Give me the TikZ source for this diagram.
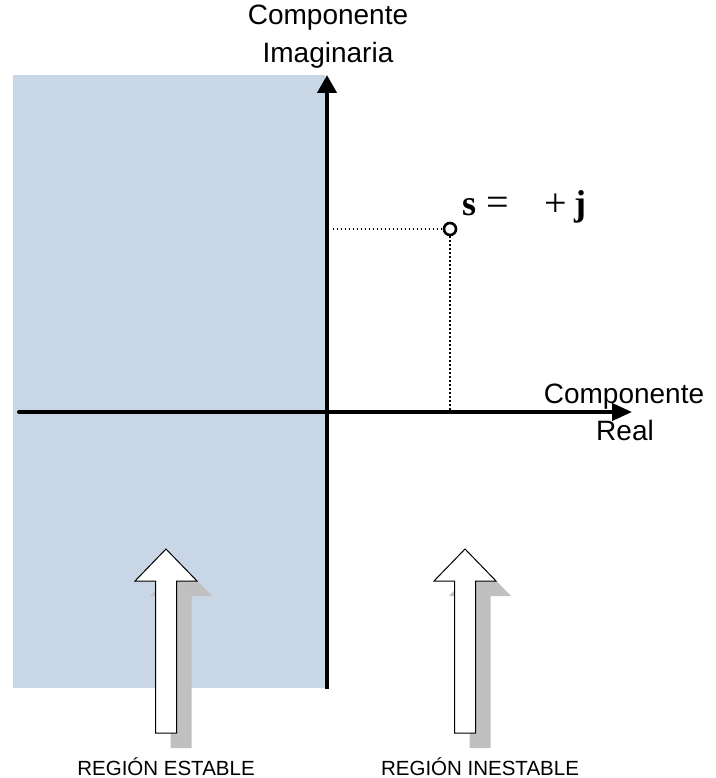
\documentclass[tikz,border=0pt]{standalone}
\usepackage{fontspec}
\setmainfont{Liberation Sans}
\newfontfamily\serifrm{Liberation Serif}
\usetikzlibrary{arrows.meta}
\definecolor{stablefill}{RGB}{201,214,229}
\definecolor{shadowgray}{RGB}{192,192,192}
\tikzset{
  axisline/.style={line width=4pt},
  axislabel/.style={font=\fontsize{28}{34}\selectfont, inner sep=0pt, anchor=base},
  regionlabel/.style={font=\fontsize{20.5}{24}\selectfont, inner sep=0pt, anchor=base},
  guide/.style={line width=1.3pt, dash pattern=on 1.3pt off 2.7pt},
  polepoint/.style={circle, draw, line width=2.6pt, fill=white, minimum size=12pt, inner sep=0pt},
  formula/.style={inner sep=0pt, anchor=base west},
  bigarrow/.pic={
    \fill[shadowgray] (15,15) -- (46,47) -- (25.5,47) -- (25.5,199) -- (4.5,199)
                       -- (4.5,47) -- (-16,47) -- cycle;
    \draw[fill=white, line width=1pt] (0,0) -- (31,32) -- (10.5,32) -- (10.5,184)
                       -- (-10.5,184) -- (-10.5,32) -- (-31,32) -- cycle;
  }
}
\begin{document}
\begin{tikzpicture}[x=1pt, y=-1pt]
  \useasboundingbox (0,0) rectangle (715,778);

  % stable half plane
  \fill[stablefill] (13,75) rectangle (325,688);

  % axes
  \coordinate (imbottom) at (327,689);
  \coordinate (imtop) at (327,75);
  \coordinate (releft) at (19,412);
  \coordinate (reright) at (632,412);
  \draw[axisline, -{Triangle[length=18pt, width=19pt]}] (imbottom) -- (imtop);
  \draw[axisline, line cap=round, -{Triangle[length=20pt, width=17pt]}] (releft) -- (reright);

  % axis labels
  \node[axislabel] (imlabelA) at (328,25) {Componente};
  \node[axislabel] (imlabelB) at (328,63) {Imaginaria};
  \node[axislabel] (relabelA) at (624,403) {Componente};
  \node[axislabel] (relabelB) at (625,440) {Real};

  % pole and its projections
  \node[polepoint] (pole) at (450,229) {};
  \coordinate (improj) at (333,229);
  \coordinate (reproj) at (450,410);
  \draw[guide] (improj) -- (pole.west);
  \draw[guide] (pole.south) -- (reproj);

  % s = sigma + j omega
  \node[formula, font=\serifrm\bfseries\fontsize{36}{36}\selectfont] (fs) at (462,215) {s};
  \node[formula, font=\serifrm\fontsize{40}{40}\selectfont] (feq) at (486,215) {=};
  \node[formula, font=\serifrm\fontsize{40}{40}\selectfont] (fplus) at (544,216) {+};
  \node[formula, font=\serifrm\bfseries\fontsize{36}{36}\selectfont] (fj) at (574,215) {j};

  % region arrows
  \pic at (166,549) {bigarrow};
  \pic at (465,549) {bigarrow};

  % region labels
  \node[regionlabel] (stable) at (166,775) {REGIÓN ESTABLE};
  \node[regionlabel] (unstable) at (480,775) {REGIÓN INESTABLE};
\end{tikzpicture}
\end{document}
